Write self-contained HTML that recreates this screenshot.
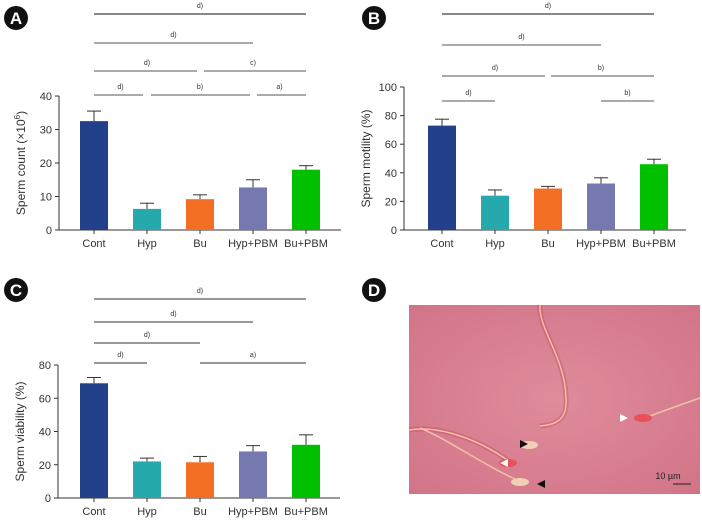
<!DOCTYPE html>
<html><head><meta charset="utf-8"><style>
html,body{margin:0;padding:0;background:#fff}
svg{display:block;font-family:"Liberation Sans",sans-serif}
</style></head><body>
<svg id="s" width="702" height="520" viewBox="0 0 702 520">
<g>
<defs><radialGradient id="bg" cx="50%" cy="50%" r="70%"><stop offset="0" stop-color="#df8c9b"/><stop offset="1" stop-color="#d27488"/></radialGradient></defs>
<rect x="409" y="305" width="291" height="189" fill="url(#bg)"/>
<path d="M540 305 C538 330,568 360,566 405 C565 420,555 425,540 426" stroke="#c9455e" stroke-width="5" fill="none" opacity="0.4"/>
<path d="M540 305 C538 330,568 360,566 405 C565 420,555 425,540 426" stroke="#f0c0a8" stroke-width="1.5" fill="none"/>
<path d="M409 430 C440 425,480 440,510 462" stroke="#c9455e" stroke-width="5" fill="none" opacity="0.4"/>
<path d="M409 430 C440 425,480 440,510 462" stroke="#f0c0a8" stroke-width="1.5" fill="none"/>
<path d="M420 428 C450 440,490 470,525 483" stroke="#f0c0a8" stroke-width="1.5" fill="none"/>
<path d="M700 398 C680 405,660 412,645 418" stroke="#f0c0a8" stroke-width="1.5" fill="none"/>
<ellipse cx="643" cy="418" rx="9" ry="4" fill="#e8505a"/>
<ellipse cx="529" cy="445" rx="9" ry="4" fill="#f2d0b8"/>
<ellipse cx="508" cy="463" rx="9" ry="4" fill="#e8505a"/>
<ellipse cx="520" cy="482" rx="9" ry="4" fill="#f2d0b8"/>
<polygon points="620,414 620,422 628,418" fill="#fff"/>
<polygon points="520,440 520,448 528,444" fill="#111"/>
<polygon points="500,463 508,459 508,467" fill="#fff"/>
<polygon points="537,484 545,480 545,488" fill="#111"/>
<text x="668" y="479" font-size="9" fill="#222" text-anchor="middle">10 µm</text>
<line x1="673" y1="484" x2="691" y2="484" stroke="#222" stroke-width="1"/>
</g>
</svg>
<script>
const categories=["Cont","Hyp","Bu","Hyp+PBM","Bu+PBM"];
const colors=["#22418a","#26a9ac","#f26f24","#7579b0","#00c000"];
const countMeans=[32.5,6.3,9.2,12.7,18];
const countErr=[3,1.7,1.3,2.3,1.2];
const motilityMeans=[73,24,29,32.5,46];
const motilityErr=[4.5,4,1.5,4,3.5];
const viabilityMeans=[69,22,21.5,28,32];
const viabilityErr=[3.5,2,3.5,3.5,6];
const countTicks=[0,10,20,30,40];
const motilityTicks=[0,20,40,60,80,100];
const viabilityTicks=[0,20,40,60,80];
const NS="http://www.w3.org/2000/svg";
const svg=document.getElementById('s');
function el(t,a,p){const e=document.createElementNS(NS,t);for(const k in a)e.setAttribute(k,a[k]);(p||svg).appendChild(e);return e;}
function panel(o){
  const g=el('g',{});
  
  
  const max=o.ticks[o.ticks.length-1];
  const y=v=>o.y0-(v/max)*(o.y0-o.yTop);
  const x=i=>o.x0+o.first+i*o.step;
  const b=el('circle',{cx:o.bx,cy:o.by,r:12,fill:'#111'},g);
  
  
  const bt=el('text',{x:o.bx,y:o.by+6,'font-size':17,'font-weight':'bold',fill:'#fff','text-anchor':'middle'},g);bt.textContent=o.letter;
  el('line',{x1:o.x0,y1:o.yTop,x2:o.x0,y2:o.y0,stroke:'#333','stroke-width':1},g);
  el('line',{x1:o.x0,y1:o.y0,x2:o.x0+282,y2:o.y0,stroke:'#333','stroke-width':1},g);
  o.ticks.forEach(t=>{
    el('line',{x1:o.x0-4,y1:y(t),x2:o.x0,y2:y(t),stroke:'#333'},g);
    const tx=el('text',{x:o.x0-7,y:y(t)+4,'font-size':11,fill:'#333','text-anchor':'end'},g);tx.textContent=t;
    
    
  });
  const yt=el('text',{transform:`translate(${o.x0-34},${(o.y0+o.yTop)/2}) rotate(-90)`,'font-size':12,fill:'#333','text-anchor':'middle'},g);
  yt.innerHTML=o.title;
  
  
  categories.forEach((c,i)=>{
    const cx=x(i),top=y(o.means[i]),et=y(o.means[i]+o.err[i]);
    el('line',{x1:cx,y1:top,x2:cx,y2:et,stroke:'#333'},g);
    el('line',{x1:cx-7,y1:et,x2:cx+7,y2:et,stroke:'#333'},g);
    const r=el('rect',{x:cx-14,y:top,width:28,height:o.y0-top,fill:colors[i]},g);
    
    
    el('line',{x1:cx,y1:o.y0,x2:cx,y2:o.y0+4,stroke:'#333'},g);
    const lt=el('text',{x:cx,y:o.y0+17,'font-size':11,fill:'#333','text-anchor':'middle'},g);lt.textContent=c;
    
    
  });
  o.sig.forEach(s=>{
    const l=el('line',{x1:x(s[0])+(s[3]||0),y1:s[2],x2:x(s[1])+(s[4]||0),y2:s[2],stroke:s[6]||'#555','stroke-width':1},g);
    
    
    const t=el('text',{x:(x(s[0])+x(s[1]))/2,y:s[2]-6,'font-size':7,fill:'#333','text-anchor':'middle'},g);t.textContent=s[5];
  });
}
panel({name:'panel-a-sperm-count',letter:'A',bx:16,by:18,x0:59,y0:230,yTop:96,first:35,step:53,ticks:countTicks,means:countMeans,err:countErr,
 title:'Sperm count (×10<tspan dy="-5" font-size="8">6</tspan><tspan dy="5">)</tspan>',
 sig:[[0,4,14,0,0,'d)','#111'],[0,3,43,0,0,'d)'],[0,2,71,0,-3,'d)'],[2,4,71,4,0,'c)'],[0,1,95,0,-4,'d)'],[1,3,95,4,-3,'b)'],[3,4,95,4,0,'a)']]});
panel({name:'panel-b-sperm-motility',letter:'B',bx:374,by:18,x0:404,y0:230,yTop:87,first:38,step:53,ticks:motilityTicks,means:motilityMeans,err:motilityErr,
 title:'Sperm motility (%)',
 sig:[[0,4,14,0,0,'d)','#111'],[0,3,45,0,0,'d)'],[0,2,76,0,-3,'d)'],[2,4,76,3,0,'b)'],[0,1,101,0,0,'d)'],[3,4,101,0,0,'b)']]});
panel({name:'panel-c-sperm-viability',letter:'C',bx:16,by:290,x0:58,y0:498,yTop:365,first:36,step:53,ticks:viabilityTicks,means:viabilityMeans,err:viabilityErr,
 title:'Sperm viability (%)',
 sig:[[0,4,299,0,0,'d)','#333'],[0,3,322,0,0,'d)','#333'],[0,2,343,0,0,'d)','#333'],[0,1,363,0,0,'d)','#333'],[2,4,363,0,0,'a)','#333']]});
const dl=el('circle',{cx:374,cy:290,r:12,fill:'#111'});


const dt=el('text',{x:374,y:296,'font-size':17,'font-weight':'bold',fill:'#fff','text-anchor':'middle'});dt.textContent='D';
</script>
</body></html>
